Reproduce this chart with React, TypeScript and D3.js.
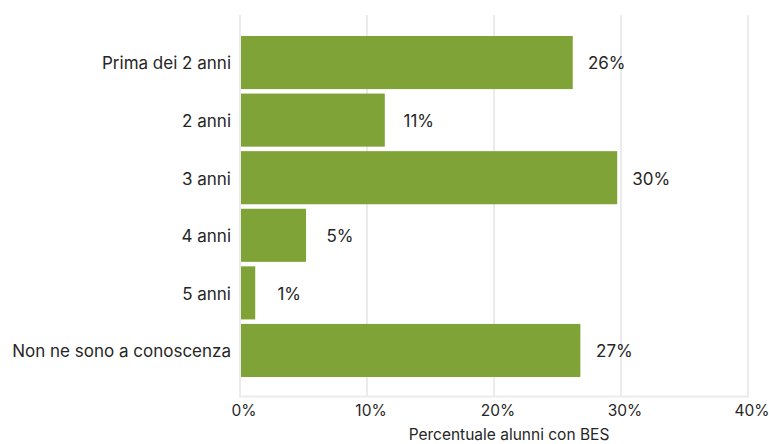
import React from "react";
import * as d3 from "d3";

// Età in cui è stato individuato il bisogno educativo speciale
const categories: string[] = [
  "Prima dei 2 anni",
  "2 anni",
  "3 anni",
  "4 anni",
  "5 anni",
  "Non ne sono a conoscenza",
];
const shares: number[] = [26.2, 11.4, 29.7, 5.2, 1.2, 26.8];
const xTicks: number[] = [0, 10, 20, 30, 40];
const xTitle = "Percentuale alunni con BES";

const W = 769;
const H = 444;
const FONT = "Inter, 'Noto Sans', sans-serif";
const BAR = "#80a338";
const INK = "#262626";
const GRID = "#ebebeb";

export default function App() {
  const x = d3.scaleLinear().domain([0, 40]).range([240, 748]);
  const y = d3
    .scaleBand<string>()
    .domain(categories)
    .range([33.75, 379.25])
    .paddingInner(0.078)
    .paddingOuter(0.039);
  const plotTop = 15;
  const plotBottom = 396.5;
  const fmt = (v: number) => `${Math.round(v)}%`;

  return (
    <svg
      width={W}
      height={H}
      style={{ position: "absolute", left: 0, top: 0, background: "#fff" }}
      fontFamily={FONT}
    >
      {/* vertical grid */}
      {xTicks.map((t) => (
        <line
          key={`g${t}`}
          x1={x(t)}
          x2={x(t)}
          y1={plotTop}
          y2={plotBottom}
          stroke={GRID}
          strokeWidth={2}
        />
      ))}
      {/* baseline */}
      <line
        x1={x(0) - 1}
        x2={x(40) + 1}
        y1={plotBottom}
        y2={plotBottom}
        stroke={GRID}
        strokeWidth={2}
      />
      {/* bars */}
      {categories.map((c, i) => (
        <rect
          key={c}
          x={x(0) + 1}
          y={y(c)}
          width={x(shares[i]) - x(0) - 1}
          height={y.bandwidth()}
          fill={BAR}
        />
      ))}
      {/* value labels */}
      {categories.map((c, i) => (
        <text
          key={`v${c}`}
          x={x(shares[i]) + 34}
          y={(y(c) ?? 0) + y.bandwidth() / 2}
          dy="0.4em"
          textAnchor="middle"
          fontSize={17}
          fill={INK}
        >
          {fmt(shares[i])}
        </text>
      ))}
      {/* category labels */}
      {categories.map((c) => (
        <text
          key={`c${c}`}
          x={x(0) - 9}
          y={(y(c) ?? 0) + y.bandwidth() / 2}
          dy="0.4em"
          textAnchor="end"
          fontSize={17}
          fill={INK}
        >
          {c}
        </text>
      ))}
      {/* x tick labels */}
      {xTicks.map((t) => (
        <text
          key={`t${t}`}
          x={x(t) + 4}
          y={416}
          textAnchor="middle"
          fontSize={15.5}
          fill={INK}
        >
          {`${t}%`}
        </text>
      ))}
      <text x={509} y={440} textAnchor="middle" fontSize={15.5} fill={INK}>
        {xTitle}
      </text>
    </svg>
  );
}
